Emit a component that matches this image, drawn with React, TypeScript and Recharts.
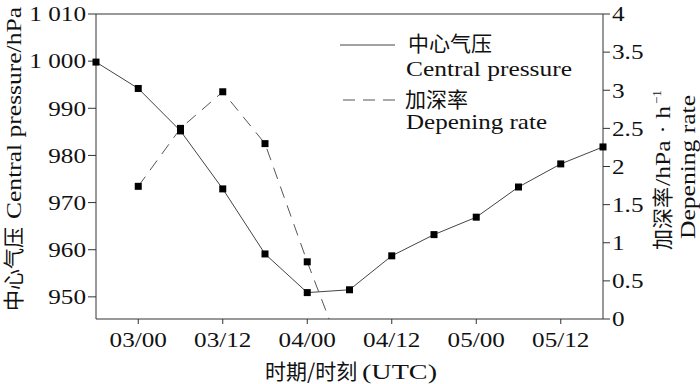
import { LineChart, Line, XAxis, YAxis, ReferenceLine } from 'recharts'

// hours since 02/18 UTC, one point every 6 h
const HOURS = [0, 6, 12, 18, 24, 30, 36, 42, 48, 54, 60, 66, 72]
const PRESSURE = [999.8, 994.2, 985.2, 972.9, 959.1, 950.9, 951.5, 958.7, 963.2, 966.9, 973.3, 978.2, 981.8]
const RATE = [null, 1.74, 2.5, 2.98, 2.3, 0.75, -0.7, null, null, null, null, null, null]

const X_TICKS = [6, 18, 30, 42, 54, 66]
const X_LABELS = ['03/00', '03/12', '04/00', '04/12', '05/00', '05/12']
const P_TICKS = [950, 960, 970, 980, 990, 1000, 1010]
const P_LABELS = ['950', '960', '970', '980', '990', '1 000', '1 010']
const R_TICKS = [0, 0.5, 1, 1.5, 2, 2.5, 3, 3.5, 4]

const data = HOURS.map((h, i) => ({ h, p: PRESSURE[i], r: RATE[i] }))

const SERIF = '"Liberation Serif", "Times New Roman", serif'
const CJK = '"Noto Sans CJK SC", sans-serif'
const AXIS = '#333'
const TXT = '#111'
const SX = 1.2

function XTick({ x, y, payload }: any) {
  const i = X_TICKS.indexOf(payload.value)
  return (
    <g transform={`translate(${x},${y})`}>
      <text transform={`scale(${SX},1)`} textAnchor="middle" dy={21} fontSize={21} fontFamily={SERIF} fill={TXT}>
        {X_LABELS[i]}
      </text>
    </g>
  )
}

function LeftTick({ x, y, payload }: any) {
  const i = P_TICKS.indexOf(payload.value)
  return (
    <g transform={`translate(${x},${y})`}>
      <text transform={`scale(${SX},1)`} textAnchor="end" dy="0.35em" fontSize={21} fontFamily={SERIF} fill={TXT}>
        {P_LABELS[i]}
      </text>
    </g>
  )
}

function RightTick({ x, y, payload }: any) {
  return (
    <g transform={`translate(${x},${y})`}>
      <text transform={`scale(${SX},1)`} textAnchor="start" dy="0.35em" fontSize={21} fontFamily={SERIF} fill={TXT}>
        {String(payload.value)}
      </text>
    </g>
  )
}

function SquareDot({ cx, cy, index }: any) {
  if (cx == null || cy == null || Number.isNaN(cy)) return <g key={index} />
  return <rect key={index} x={cx - 3.5} y={cy - 3.5} width={7} height={7} fill="#000" />
}

export default function App() {
  return (
    <div style={{ position: 'absolute', left: 0, top: 0, width: 700, height: 384, background: '#fff' }}>
      <LineChart width={700} height={384} data={data} margin={{ top: 14, right: 0, bottom: 0, left: 0 }}>
        <XAxis
          dataKey="h"
          type="number"
          domain={[0, 72]}
          ticks={X_TICKS}
          height={65}
          tickSize={5}
          stroke={AXIS}
          tick={(props: any) => <XTick {...props} />}
        />
        <YAxis
          yAxisId="p"
          orientation="left"
          width={96}
          type="number"
          domain={[945.3, 1010]}
          ticks={P_TICKS}
          tickSize={8}
          stroke={AXIS}
          tick={(props: any) => <LeftTick {...props} />}
        />
        <YAxis
          yAxisId="r"
          orientation="right"
          width={97}
          type="number"
          domain={[0, 4]}
          ticks={R_TICKS}
          tickSize={7}
          stroke={AXIS}
          allowDataOverflow
          tick={(props: any) => <RightTick {...props} />}
        />
        <ReferenceLine yAxisId="p" y={1010} stroke={AXIS} />
        <Line
          yAxisId="p"
          dataKey="p"
          stroke="#444"
          strokeWidth={1}
          dot={(props: any) => <SquareDot {...props} />}
          isAnimationActive={false}
        />
        <Line
          yAxisId="r"
          dataKey="r"
          stroke="#555"
          strokeWidth={1}
          strokeDasharray="12 8"
          dot={(props: any) => <SquareDot {...props} />}
          isAnimationActive={false}
        />
      </LineChart>
      <svg width={700} height={384} style={{ position: 'absolute', left: 0, top: 0, pointerEvents: 'none' }}>
        {/* legend */}
        <line x1={340} y1={45} x2={395} y2={45} stroke="#444" />
        <text x={408} y={51} fontSize={21} fontFamily={CJK} fill={TXT}>中心气压</text>
        <text x={406} y={76} fontSize={22} fontFamily={SERIF} fill={TXT} textLength={166} lengthAdjust="spacingAndGlyphs">
          Central pressure
        </text>
        <line x1={343} y1={100} x2={395} y2={100} stroke="#555" strokeDasharray="12 8" />
        <text x={405} y={107} fontSize={21} fontFamily={CJK} fill={TXT}>加深率</text>
        <text x={406} y={129} fontSize={22} fontFamily={SERIF} fill={TXT} textLength={141} lengthAdjust="spacingAndGlyphs">
          Depening rate
        </text>

        {/* left axis title */}
        <g transform="translate(21,311) rotate(-90)">
          <text x={0} y={0} fontSize={21} fontFamily={CJK} fill={TXT}>中心气压</text>
          <text x={92} y={0} fontSize={22} fontFamily={SERIF} fill={TXT} textLength={212} lengthAdjust="spacingAndGlyphs">
            Central pressure/hPa
          </text>
        </g>

        {/* right axis title */}
        <g transform="translate(670,250) rotate(-90)">
          <text x={0} y={0} fontSize={21} fontFamily={CJK} fill={TXT}>加深率</text>
          <text x={64} y={0} fontSize={22} fontFamily={SERIF} fill={TXT} textLength={80} lengthAdjust="spacingAndGlyphs">
            /hPa · h
          </text>
          <text x={146} y={-9} fontSize={13} fontFamily={SERIF} fill={TXT}>−1</text>
        </g>
        <g transform="translate(695,239) rotate(-90)">
          <text x={0} y={0} fontSize={22} fontFamily={SERIF} fill={TXT} textLength={144} lengthAdjust="spacingAndGlyphs">
            Depening rate
          </text>
        </g>

        {/* bottom axis title */}
        <text x={265} y={379} fontSize={21} fontFamily={CJK} fill={TXT}>时期/时刻</text>
        <text x={362} y={379} fontSize={22} fontFamily={SERIF} fill={TXT} textLength={75} lengthAdjust="spacingAndGlyphs">
          (UTC)
        </text>
      </svg>
    </div>
  )
}
